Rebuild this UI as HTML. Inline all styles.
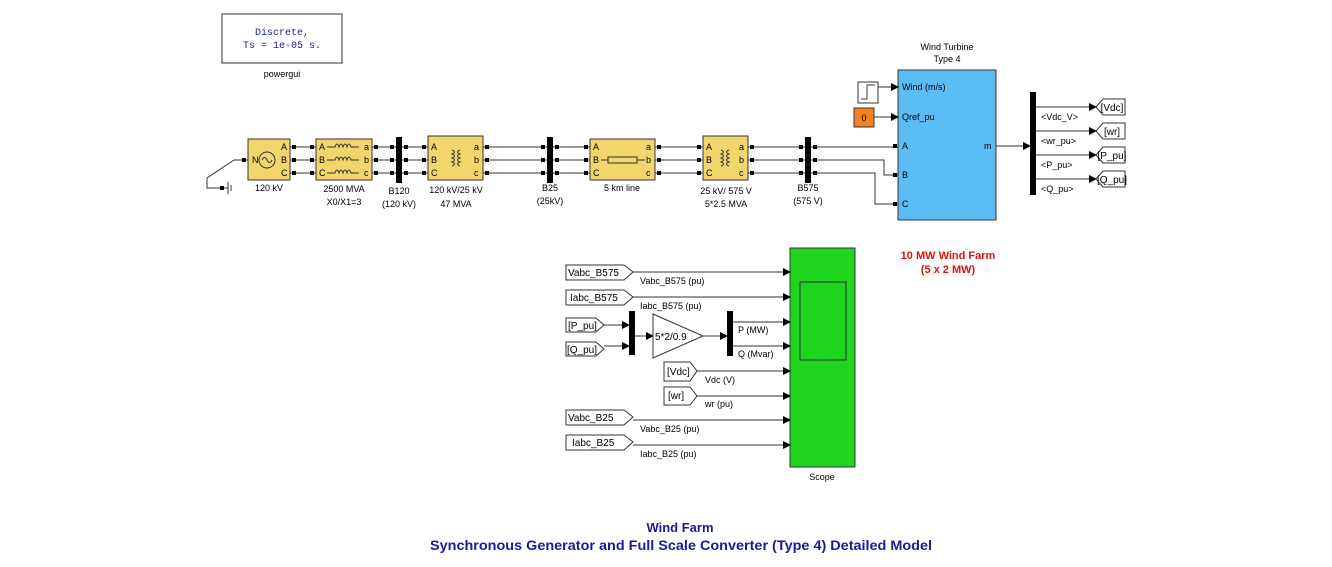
<!DOCTYPE html>
<html><head><style>
body{margin:0;background:#fff}
svg{display:block;font-family:"Liberation Sans",sans-serif}
.t{font-size:9px;fill:#000}
.y{fill:#f2d66b;stroke:#333;stroke-width:1}
.w{stroke:#333;stroke-width:1;fill:none}
</style></head><body>
<svg width="1332" height="567" viewBox="0 0 1332 567" xmlns="http://www.w3.org/2000/svg">
<defs><marker id="a" markerWidth="8" markerHeight="8" refX="7" refY="4" orient="auto" markerUnits="userSpaceOnUse"><path d="M0,0 L8,4 L0,8z" fill="#000"/></marker>
<g id="p3"><rect x="-2" y="145" width="4" height="4" fill="#000"/><rect x="-2" y="158" width="4" height="4" fill="#000"/><rect x="-2" y="171" width="4" height="4" fill="#000"/></g></defs>
<!-- powergui -->
<rect x="222" y="14" width="120" height="49" fill="#fff" stroke="#333"/>
<text x="282" y="35" text-anchor="middle" font-family="Liberation Mono" font-size="10" fill="#1a1aa0">Discrete,</text>
<text x="282" y="48" text-anchor="middle" font-family="Liberation Mono" font-size="10" fill="#1a1aa0">Ts = 1e-05 s.</text>
<text x="282" y="77" text-anchor="middle" class="t">powergui</text>
<!-- ground -->
<path class="w" d="M248,160 L234,160 L207,178 L207,188 L222,188"/>
<rect x="220" y="186" width="4" height="4" fill="#000"/>
<path class="w" d="M224,188 L228,188 M228,182 L228,194 M231,185 L231,191"/>
<rect x="242" y="158" width="4" height="4" fill="#000"/>
<!-- three phase wires -->
<g class="w">
<path d="M290,147H316M290,160H316M290,173H316"/>
<path d="M372,147H428M372,160H428M372,173H428"/>
<path d="M483,147H590M483,160H590M483,173H590"/>
<path d="M655,147H703M655,160H703M655,173H703"/>
<path d="M748,147H898"/>
<path d="M748,160H884V175H898"/>
<path d="M748,173H875V204H898"/>
</g>
<use href="#p3" x="294"/><use href="#p3" x="312"/><use href="#p3" x="376"/><use href="#p3" x="392"/><use href="#p3" x="406"/><use href="#p3" x="424"/>
<use href="#p3" x="487"/><use href="#p3" x="543"/><use href="#p3" x="557"/><use href="#p3" x="586"/><use href="#p3" x="659"/><use href="#p3" x="699"/>
<use href="#p3" x="752"/><use href="#p3" x="801"/><use href="#p3" x="815"/>
<rect x="893" y="144" width="4" height="4" fill="#000"/><rect x="893" y="173" width="4" height="4" fill="#000"/><rect x="893" y="202" width="4" height="4" fill="#000"/>
<!-- source -->
<rect class="y" x="248" y="139" width="42" height="41"/>
<circle cx="267" cy="160" r="8" class="w"/><path d="M262,160 q2.5,-5 5,0 q2.5,5 5,0" class="w"/>
<text x="252" y="163" class="t">N</text><text x="281" y="150" class="t">A</text><text x="281" y="163" class="t">B</text><text x="281" y="176" class="t">C</text>
<text x="269" y="191" class="t" text-anchor="middle">120 kV</text>
<!-- 2500 MVA -->
<rect class="y" x="316" y="139" width="56" height="41"/>
<text x="319" y="150" class="t">A</text><text x="319" y="163" class="t">B</text><text x="319" y="176" class="t">C</text>
<text x="364" y="150" class="t">a</text><text x="364" y="163" class="t">b</text><text x="364" y="176" class="t">c</text>
<path class="w" d="M327,147h8q2,-6 4,0q2,-6 4,0q2,-6 4,0q2,-6 4,0h8M327,160h8q2,-6 4,0q2,-6 4,0q2,-6 4,0q2,-6 4,0h8M327,173h8q2,-6 4,0q2,-6 4,0q2,-6 4,0q2,-6 4,0h8"/>
<text x="344" y="192" class="t" text-anchor="middle">2500 MVA</text>
<text x="344" y="205" class="t" text-anchor="middle">X0/X1=3</text>
<!-- buses -->
<rect x="396" y="137" width="6" height="46" fill="#000"/>
<text x="399" y="194" class="t" text-anchor="middle">B120</text><text x="399" y="207" class="t" text-anchor="middle">(120 kV)</text>
<rect x="547" y="137" width="6" height="46" fill="#000"/>
<text x="550" y="191" class="t" text-anchor="middle">B25</text><text x="550" y="204" class="t" text-anchor="middle">(25kV)</text>
<rect x="805" y="137" width="6" height="46" fill="#000"/>
<text x="808" y="191" class="t" text-anchor="middle">B575</text><text x="808" y="204" class="t" text-anchor="middle">(575 V)</text>
<!-- 120/25 trafo -->
<rect class="y" x="428" y="136" width="55" height="44"/>
<text x="431" y="150" class="t">A</text><text x="431" y="163" class="t">B</text><text x="431" y="176" class="t">C</text>
<text x="474" y="150" class="t">a</text><text x="474" y="163" class="t">b</text><text x="474" y="176" class="t">c</text>
<path class="w" d="M452,150q5,2 0,4q5,2 0,4q5,2 0,4q5,2 0,4M460,150q-5,2 0,4q-5,2 0,4q-5,2 0,4q-5,2 0,4"/>
<text x="456" y="193" class="t" text-anchor="middle">120 kV/25 kV</text><text x="456" y="207" class="t" text-anchor="middle">47 MVA</text>
<!-- line -->
<rect class="y" x="590" y="139" width="65" height="41"/>
<text x="593" y="150" class="t">A</text><text x="593" y="163" class="t">B</text><text x="593" y="176" class="t">C</text>
<text x="646" y="150" class="t">a</text><text x="646" y="163" class="t">b</text><text x="646" y="176" class="t">c</text>
<path class="w" d="M601,160h7M637,160h8"/><rect x="608" y="157" width="29" height="6" fill="none" stroke="#333"/>
<text x="622" y="191" class="t" text-anchor="middle">5 km line</text>
<!-- 25/575 trafo -->
<rect class="y" x="703" y="136" width="45" height="44"/>
<text x="706" y="150" class="t">A</text><text x="706" y="163" class="t">B</text><text x="706" y="176" class="t">C</text>
<text x="739" y="150" class="t">a</text><text x="739" y="163" class="t">b</text><text x="739" y="176" class="t">c</text>
<path class="w" d="M721,150q5,2 0,4q5,2 0,4q5,2 0,4q5,2 0,4M729,150q-5,2 0,4q-5,2 0,4q-5,2 0,4q-5,2 0,4"/>
<text x="726" y="194" class="t" text-anchor="middle">25 kV/ 575 V</text><text x="726" y="207" class="t" text-anchor="middle">5*2.5 MVA</text>
<!-- wind turbine -->
<text x="947" y="50" class="t" text-anchor="middle">Wind Turbine</text>
<text x="947" y="62" class="t" text-anchor="middle">Type 4</text>
<rect x="898" y="70" width="98" height="150" fill="#5cbcf5" stroke="#333"/>
<text x="902" y="90" class="t">Wind (m/s)</text><text x="902" y="120" class="t">Qref_pu</text>
<text x="902" y="149" class="t">A</text><text x="902" y="178" class="t">B</text><text x="902" y="207" class="t">C</text>
<text x="984" y="149" class="t">m</text>
<rect x="858" y="82" width="20" height="21" fill="#fff" stroke="#333"/>
<path class="w" d="M861,99h6v-14h8"/>
<path class="w" d="M878,87h4v0h16" marker-end="url(#a)"/>
<rect x="854" y="108" width="20" height="19" fill="#f58220" stroke="#333"/>
<text x="864" y="121" class="t" text-anchor="middle">0</text>
<path class="w" d="M874,117H898" marker-end="url(#a)"/>
<path class="w" d="M996,146H1030" marker-end="url(#a)"/>
<rect x="1030" y="92" width="6" height="103" fill="#000"/>
<g class="w">
<path d="M1036,107H1096" marker-end="url(#a)"/><path d="M1036,131H1096" marker-end="url(#a)"/>
<path d="M1036,155H1096" marker-end="url(#a)"/><path d="M1036,179H1096" marker-end="url(#a)"/>
</g>
<text x="1041" y="120" class="t">&lt;Vdc_V&gt;</text><text x="1041" y="144" class="t">&lt;wr_pu&gt;</text>
<text x="1041" y="168" class="t">&lt;P_pu&gt;</text><text x="1041" y="192" class="t">&lt;Q_pu&gt;</text>
<g fill="#fff" stroke="#333">
<path d="M1096,107l7,-8h22v16h-22z"/><path d="M1096,131l7,-8h22v16h-22z"/>
<path d="M1096,155l7,-8h22v16h-22z"/><path d="M1096,179l7,-8h22v16h-22z"/>
</g>
<text x="1112" y="111" font-size="10" text-anchor="middle">[Vdc]</text><text x="1112" y="135" font-size="10" text-anchor="middle">[wr]</text>
<text x="1112" y="159" font-size="10" text-anchor="middle">[P_pu]</text><text x="1112" y="183" font-size="10" text-anchor="middle">[Q_pu]</text>
<text x="948" y="259" font-size="11" font-weight="bold" fill="#e01010" text-anchor="middle">10 MW Wind Farm</text>
<text x="948" y="273" font-size="11" font-weight="bold" fill="#e01010" text-anchor="middle">(5 x 2 MW)</text>
<!-- scope -->
<rect x="790" y="248" width="65" height="219" fill="#1ed41e" stroke="#333"/>
<rect x="800" y="282" width="46" height="78" fill="none" stroke="#333"/>
<text x="822" y="480" class="t" text-anchor="middle">Scope</text>
<!-- from tags -->
<g fill="#fff" stroke="#333">
<path d="M566,265h58l9,7l-9,8h-58z"/><path d="M566,290h58l9,7l-9,8h-58z"/>
<path d="M566,318h30l8,7l-8,7h-30z"/><path d="M566,342h30l8,7l-8,7h-30z"/>
<path d="M664,362h26l7,9l-7,10h-26z"/><path d="M664,387h26l7,9l-7,9h-26z"/>
<path d="M566,410h58l9,7l-9,8h-58z"/><path d="M566,435h58l9,7l-9,8h-58z"/>
</g>
<g font-size="10">
<text x="568" y="276">Vabc_B575</text><text x="570" y="301">Iabc_B575</text>
<text x="568" y="329">[P_pu]</text><text x="567" y="353">[Q_pu]</text>
<text x="667" y="375">[Vdc]</text><text x="668" y="399">[wr]</text>
<text x="568" y="421">Vabc_B25</text><text x="572" y="446">Iabc_B25</text>
</g>
<g class="w">
<path d="M633,272H790" marker-end="url(#a)"/><path d="M633,297H790" marker-end="url(#a)"/>
<path d="M604,325H629" marker-end="url(#a)"/><path d="M604,346H629" marker-end="url(#a)"/>
<path d="M635,336H653" marker-end="url(#a)"/><path d="M703,336H727" marker-end="url(#a)"/>
<path d="M733,322H790" marker-end="url(#a)"/><path d="M733,346H790" marker-end="url(#a)"/>
<path d="M697,371H790" marker-end="url(#a)"/><path d="M697,396H790" marker-end="url(#a)"/>
<path d="M633,420H790" marker-end="url(#a)"/><path d="M633,445H790" marker-end="url(#a)"/>
</g>
<rect x="629" y="311" width="6" height="44" fill="#000"/>
<rect x="727" y="311" width="6" height="45" fill="#000"/>
<path d="M653,314L703,336L653,358z" fill="#fff" stroke="#333"/>
<text x="655" y="340" font-size="10">5*2/0.9</text>
<g class="t">
<text x="640" y="284">Vabc_B575 (pu)</text><text x="640" y="309">Iabc_B575 (pu)</text>
<text x="738" y="333">P (MW)</text><text x="738" y="357">Q (Mvar)</text>
<text x="705" y="383">Vdc (V)</text><text x="705" y="407">wr (pu)</text>
<text x="640" y="432">Vabc_B25 (pu)</text><text x="640" y="457">Iabc_B25 (pu)</text>
</g>
<text x="680" y="532" font-size="13" font-weight="bold" fill="#1a1a9a" text-anchor="middle">Wind Farm</text>
<text x="681" y="550" font-size="14" font-weight="bold" fill="#1a1a9a" text-anchor="middle" textLength="502" lengthAdjust="spacingAndGlyphs">Synchronous Generator and Full Scale Converter (Type 4) Detailed Model</text>
</svg>
</body></html>
